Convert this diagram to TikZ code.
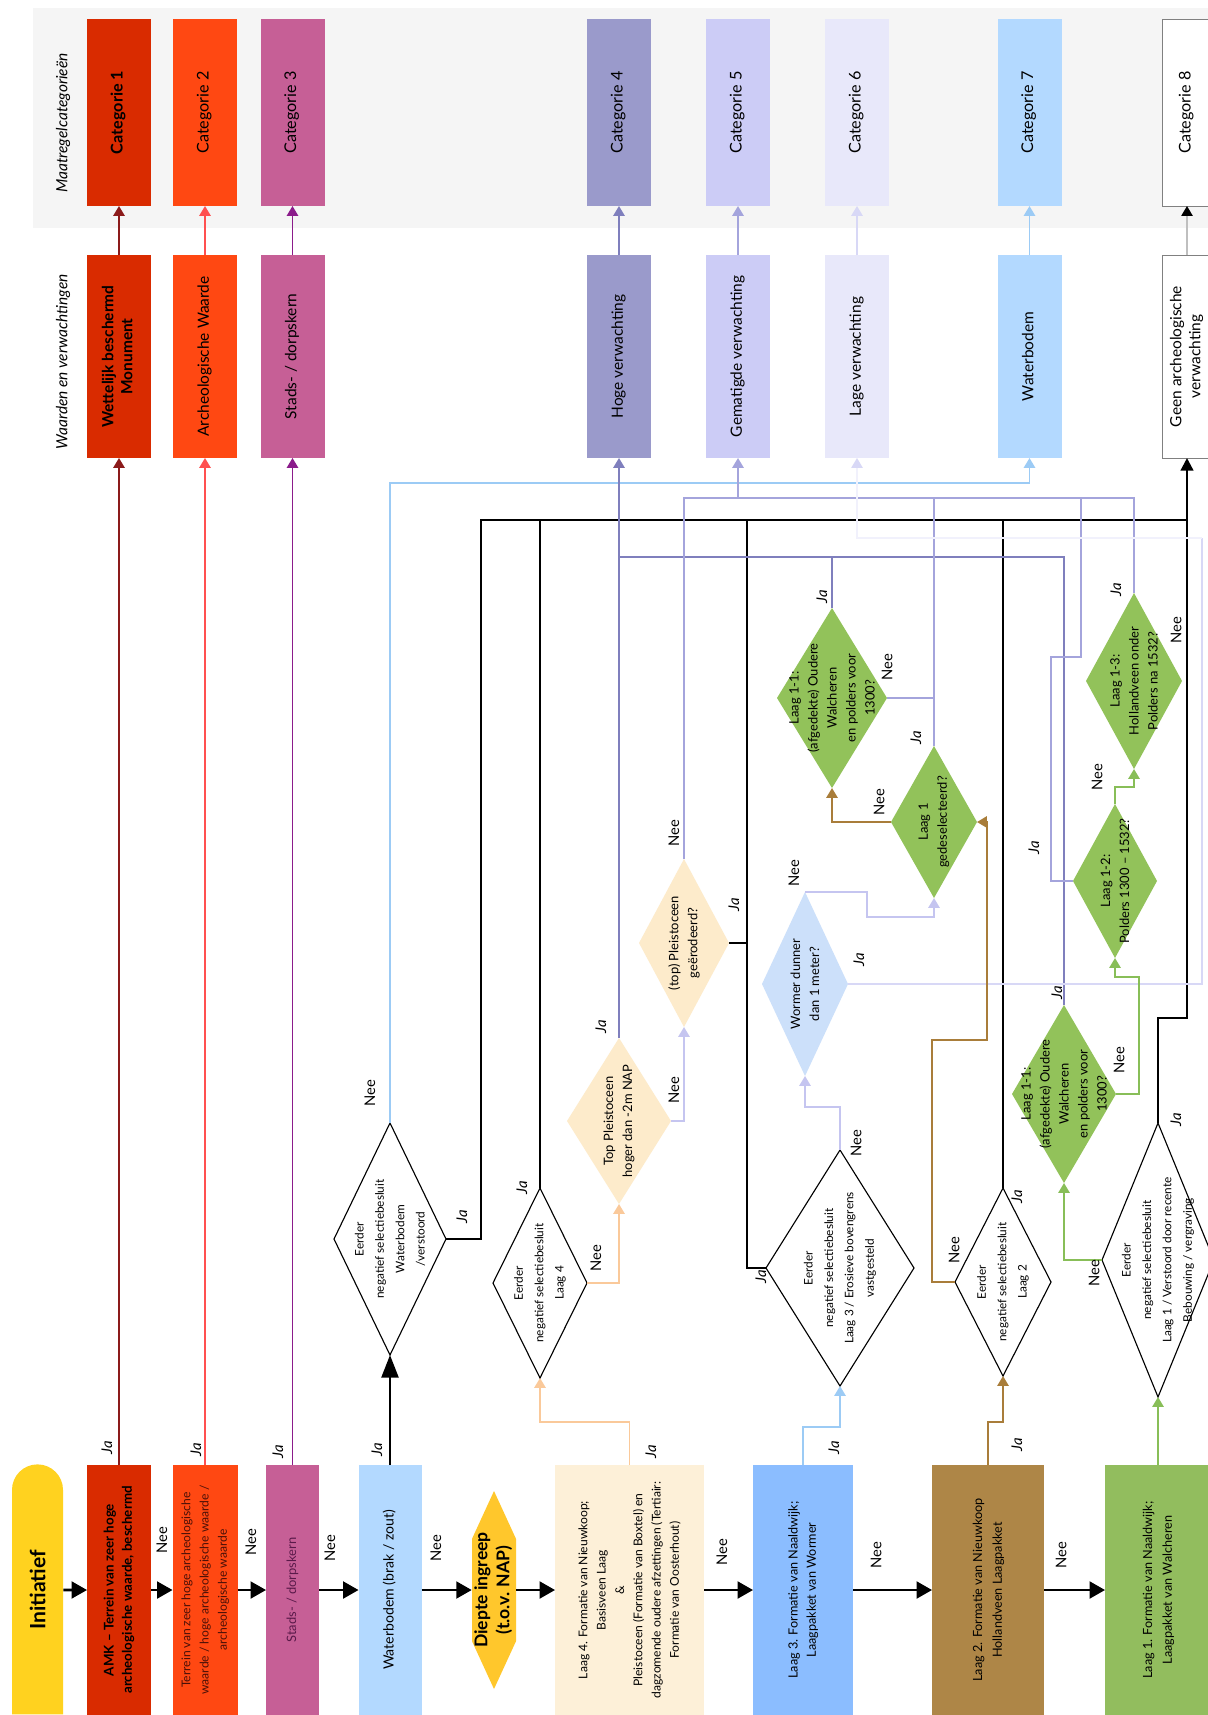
\documentclass[tikz,border=0pt]{standalone}
\usepackage{graphicx}
\usepackage{fontspec}
\setmainfont{Lato}
\usetikzlibrary{arrows.meta,shapes.geometric,shapes.misc}

\definecolor{band}{HTML}{F5F5F5}
\definecolor{catA}{HTML}{D92B00}
\definecolor{catB}{HTML}{FF4812}
\definecolor{catC}{HTML}{C65F96}
\definecolor{catD}{HTML}{9A9ACB}
\definecolor{catE}{HTML}{CCCCF6}
\definecolor{catF}{HTML}{E8E8FA}
\definecolor{catG}{HTML}{B3D9FF}
\definecolor{lijnA}{HTML}{8B1A1A}
\definecolor{lijnB}{HTML}{FF5050}
\definecolor{lijnC}{HTML}{8B1C8B}
\definecolor{lijnD}{HTML}{7F7FBD}
\definecolor{lijnE}{HTML}{A4A4DC}
\definecolor{lijnF}{HTML}{D8D8F6}
\definecolor{lijnG}{HTML}{9CCBF5}
\definecolor{geel}{HTML}{FFD21F}
\definecolor{diepgeel}{HTML}{FFC72C}
\definecolor{laagvier}{HTML}{FDF0D8}
\definecolor{laagdrie}{HTML}{8BBDFF}
\definecolor{laagtwee}{HTML}{AE8647}
\definecolor{laageen}{HTML}{92BD5E}
\definecolor{perzik}{HTML}{FDEBCB}
\definecolor{perziklijn}{HTML}{FAC99A}
\definecolor{bruin}{HTML}{A97D3A}
\definecolor{groen}{HTML}{92C25A}
\definecolor{groenlijn}{HTML}{88BE58}
\definecolor{wormer}{HTML}{CCE0FA}
\definecolor{lila}{HTML}{C5C5F0}
\definecolor{terrtxt}{HTML}{4A1008}
\definecolor{stadtxt}{HTML}{5A1A4A}

\newcommand{\px}{0.025cm}
\newcommand{\rtxt}[1]{\rotatebox{90}{\begin{tabular}{@{}c@{}}#1\end{tabular}}}

\tikzset{
  catbox/.style={rectangle, inner sep=0pt, outer sep=0pt, minimum width=64*\px, minimum height=187*\px, font=\fontsize{11.5}{13}\selectfont},
  valbox/.style={catbox, minimum height=203*\px, font=\fontsize{11}{13.5}\selectfont},
  laagbox/.style={rectangle, inner sep=0pt, outer sep=0pt, minimum height=250*\px, font=\fontsize{8.6}{13}\selectfont},
  zeshoek/.style={rectangle, inner sep=0pt, minimum width=44*\px, minimum height=198*\px,
    font=\fontsize{12.5}{15.5}\selectfont\bfseries,
    path picture={\fill[diepgeel] (path picture bounding box.north)
      -- ([yshift=-34pt]path picture bounding box.north east)
      -- ([yshift=34pt]path picture bounding box.south east)
      -- (path picture bounding box.south)
      -- ([yshift=34pt]path picture bounding box.south west)
      -- ([yshift=-34pt]path picture bounding box.north west) -- cycle;}},
  dia/.style={diamond, inner sep=0pt, outer sep=0pt},
  eerder/.style={dia, draw=black, line width=0.8pt, fill=white},
  groendia/.style={dia, fill=groen},
  perzikdia/.style={dia, fill=perzik},
  wormdia/.style={dia, fill=wormer},
  dtxt/.style={rotate=90, align=center, inner sep=0pt, font=\fontsize{8.4}{14.5}\selectfont},
  gtxt/.style={dtxt, font=\fontsize{9.2}{13.5}\selectfont},
  kopje/.style={rotate=90, inner sep=0pt, font=\fontsize{11}{12}\selectfont\itshape},
  ja/.style={rotate=90, inner sep=0pt, font=\fontsize{10.5}{11}\selectfont\itshape},
  nee/.style={rotate=90, inner sep=0pt, font=\fontsize{10.5}{11}\selectfont},
  vlak/.style={line width=1.3pt},
  kop/.style={-{Triangle[width=8pt,length=7pt]}},
  zwart/.style={line width=1.6pt, black},
  pijl/.style={line width=1.8pt, -{Triangle[width=12pt,length=11pt]}}
}

\begin{document}
\begin{tikzpicture}[x=\px, y=-\px]
\useasboundingbox (0,0) rectangle (1208,1715);
\clip (0,0) rectangle (1208,1715);
\fill[white] (0,0) rectangle (1208,1715);
\fill[band] (33,8) rectangle (1215,228);

% koppen
\node[kopje] (kopcat) at (63,123) {Maatregelcategorieën};
\node[kopje] (kopwaard) at (63,362) {Waarden en verwachtingen};

% maatregelcategorieen
\node[catbox, fill=catA, font=\fontsize{11.5}{13}\selectfont\bfseries] (cat1) at (119,112.5) {\rtxt{Categorie 1}};
\node[catbox, fill=catB] (cat2) at (205,112.5) {\rtxt{Categorie 2}};
\node[catbox, fill=catC] (cat3) at (292.5,112.5) {\rtxt{Categorie 3}};
\node[catbox, fill=catD] (cat4) at (619,112.5) {\rtxt{Categorie 4}};
\node[catbox, fill=catE] (cat5) at (738,112.5) {\rtxt{Categorie 5}};
\node[catbox, fill=catF] (cat6) at (857,112.5) {\rtxt{Categorie 6}};
\node[catbox, fill=catG] (cat7) at (1029.5,112.5) {\rtxt{Categorie 7}};
\node[catbox, fill=white, draw=gray, minimum width=50*\px] (cat8) at (1187,112.5) {\rtxt{Categorie 8}};

% waarden en verwachtingen
\node[valbox, fill=catA, font=\fontsize{11}{13.5}\selectfont\bfseries] (wrd1) at (119,356.5) {\rtxt{Wettelijk beschermd\\Monument}};
\node[valbox, fill=catB] (wrd2) at (205,356.5) {\rtxt{Archeologische Waarde}};
\node[valbox, fill=catC] (wrd3) at (292.5,356.5) {\rtxt{Stads- / dorpskern}};
\node[valbox, fill=catD] (wrd4) at (619,356.5) {\rtxt{Hoge verwachting}};
\node[valbox, fill=catE] (wrd5) at (738,356.5) {\rtxt{Gematigde verwachting}};
\node[valbox, fill=catF] (wrd6) at (857,356.5) {\rtxt{Lage verwachting}};
\node[valbox, fill=catG] (wrd7) at (1029.5,356.5) {\rtxt{Waterbodem}};
\node[valbox, fill=white, draw=gray, minimum width=50*\px] (wrd8) at (1187,356.5) {\rtxt{Geen archeologische\\verwachting}};

\draw[vlak, lijnA, kop] (wrd1) -- (cat1);
\draw[vlak, lijnB, kop] (wrd2) -- (cat2);
\draw[vlak, lijnC, kop] (wrd3) -- (cat3);
\draw[vlak, lijnD, kop] (wrd4) -- (cat4);
\draw[vlak, lijnE, kop] (wrd5) -- (cat5);
\draw[vlak, lijnF, kop] (wrd6) -- (cat6);
\draw[vlak, lijnG, kop] (wrd7) -- (cat7);
\draw[gray!50, line width=1pt, -{Triangle[width=8pt,length=7pt,color=black]}] (wrd8) -- (cat8);

% onderste rij
\node[rounded rectangle, rounded rectangle west arc=none, rotate=90, fill=geel, minimum width=250*\px, minimum height=51*\px, inner sep=0pt, font=\fontsize{15}{16}\selectfont\bfseries] (init) at (37.5,1590) {Initiatief};
\node[laagbox, fill=catA, minimum width=64*\px, font=\fontsize{9.5}{13}\selectfont\bfseries] (amk) at (119,1590) {\rtxt{AMK – Terrein van zeer hoge\\archeologische waarde, beschermd}};
\node[laagbox, fill=catB, minimum width=65*\px, text=terrtxt] (terr) at (205,1590) {\rtxt{Terrein van zeer hoge archeologische\\waarde / hoge archeologische waarde /\\archeologische waarde}};
\node[laagbox, fill=catC, minimum width=53*\px, text=stadtxt, font=\fontsize{9.2}{13}\selectfont] (stad) at (292.5,1590) {\rtxt{Stads- / dorpskern}};
\node[laagbox, fill=catG, minimum width=63*\px, font=\fontsize{10}{13}\selectfont] (wbod) at (390,1590) {\rtxt{Waterbodem (brak / zout)}};
\node[zeshoek] (diepte) at (494,1590) {\rtxt{Diepte ingreep\\(t.o.v. NAP)}};
\node[laagbox, fill=laagvier, minimum width=149*\px] (laag4) at (629.5,1590) {\rtxt{Laag 4. Formatie van Nieuwkoop;\\Basisveen Laag\\\&\\Pleistoceen (Formatie van Boxtel) en\\dagzomende oudere afzettingen (Tertiair:\\Formatie van Oosterhout)}};
\node[laagbox, fill=laagdrie, minimum width=100*\px, font=\fontsize{9}{13}\selectfont] (laag3) at (803,1590) {\rtxt{Laag 3. Formatie van Naaldwijk;\\Laagpakket van Wormer}};
\node[laagbox, fill=laagtwee, minimum width=112*\px, font=\fontsize{9}{14}\selectfont] (laag2) at (988,1590) {\rtxt{Laag 2. Formatie van Nieuwkoop\\Hollandveen Laagpakket}};
\node[laagbox, fill=laageen, minimum width=106*\px, font=\fontsize{9}{14}\selectfont] (laag1) at (1158,1590) {\rtxt{Laag 1. Formatie van Naaldwijk;\\Laagpakket van Walcheren}};

\draw[pijl] (init) -- (amk);
\draw[pijl] (amk) -- (terr);
\draw[pijl] (terr) -- (stad);
\draw[pijl] (stad) -- (wbod);
\draw[pijl] (wbod) -- (diepte);
\draw[pijl] (diepte) -- (laag4);
\draw[pijl] (laag4) -- (laag3);
\draw[pijl] (laag3) -- (laag2);
\draw[pijl] (laag2) -- (laag1);

\node[nee] (n1) at (162,1540) {Nee};
\node[nee] (n2) at (251,1542) {Nee};
\node[nee] (n3) at (330,1548) {Nee};
\node[nee] (n4) at (436,1548) {Nee};
\node[nee] (n5) at (722,1552) {Nee};
\node[nee] (n6) at (876,1555) {Nee};
\node[nee] (n7) at (1061,1555) {Nee};

\node[ja] (j1) at (107,1448) {Ja};
\node[ja] (j2) at (196,1450) {Ja};
\node[ja] (j3) at (278,1452) {Ja};
\node[ja] (j4) at (377,1450) {Ja};
\node[ja] (j5) at (651,1452) {Ja};
\node[ja] (j6) at (834,1448) {Ja};
\node[ja] (j7) at (1017,1445) {Ja};

\draw[vlak, lijnA, kop] (amk) -- (wrd1);
\draw[vlak, lijnB, kop] (terr) -- (wrd2);
\draw[vlak, lijnC, kop] (stad) -- (wrd3);

% beslisruiten
\node[eerder, minimum width=112*\px, minimum height=232*\px] (dWb) at (390,1239) {};
\node[dtxt] (tWb) at (dWb) {Eerder\\negatief selectiebesluit\\Waterbodem\\/verstoord};
\node[eerder, minimum width=94*\px, minimum height=190*\px] (dL4) at (540,1283) {};
\node[dtxt] (tL4) at (dL4) {Eerder\\negatief selectiebesluit\\Laag 4};
\node[eerder, minimum width=148*\px, minimum height=236*\px] (dL3) at (840,1268) {};
\node[dtxt] (tL3) at (dL3) {Eerder\\negatief selectiebesluit\\Laag 3 / Erosieve bovengrens\\vastgesteld};
\node[eerder, minimum width=96*\px, minimum height=188*\px] (dL2) at (1003,1282) {};
\node[dtxt] (tL2) at (dL2) {Eerder\\negatief selectiebesluit\\Laag 2};
\node[eerder, minimum width=112*\px, minimum height=274*\px] (dL1) at (1158,1260) {};
\node[dtxt] (tL1) at (dL1) {Eerder\\negatief selectiebesluit\\Laag 1 / Verstoord door recente\\Bebouwing / vergraving};

\node[perzikdia, minimum width=104*\px, minimum height=166*\px] (dTop) at (619,1121) {};
\node[gtxt] (tTop) at (dTop) {Top Pleistoceen\\hoger dan -2m NAP};
\node[perzikdia, minimum width=90*\px, minimum height=168*\px] (dTPe) at (684,943) {};
\node[gtxt] (tTPe) at (dTPe) {(top) Pleistoceen\\geërodeerd?};
\node[wormdia, minimum width=86*\px, minimum height=184*\px] (dWor) at (805,984) {};
\node[gtxt] (tWor) at (dWor) {Wormer dunner\\dan 1 meter?};

\node[groendia, minimum width=110*\px, minimum height=180*\px] (dU11) at (832,698) {};
\node[gtxt] (tU11) at (dU11) {Laag 1-1:\\(afgedekte) Oudere\\Walcheren\\en polders voor\\1300?};
\node[groendia, minimum width=86*\px, minimum height=152*\px] (dLG) at (934,822) {};
\node[gtxt] (tLG) at (dLG) {Laag 1\\gedeselecteerd?};
\node[groendia, minimum width=96*\px, minimum height=176*\px] (dL13) at (1134,681) {};
\node[gtxt] (tL13) at (dL13) {Laag 1-3:\\Hollandveen onder\\Polders na 1532?};
\node[groendia, minimum width=84*\px, minimum height=154*\px] (dL12) at (1115,881) {};
\node[gtxt] (tL12) at (dL12) {Laag 1-2:\\Polders 1300 – 1532?};
\node[groendia, minimum width=104*\px, minimum height=178*\px] (dLL11) at (1064,1094) {};
\node[gtxt] (tLL11) at (dLL11) {Laag 1-1:\\(afgedekte) Oudere\\Walcheren\\en polders voor\\1300?};

% verzamellijnen
\coordinate (busW) at (0,483);
\coordinate (busG) at (0,498);
\coordinate (busN) at (481,520);
\coordinate (busH) at (0,557);

% naar waterbodem
\draw[vlak, lijnG, kop] (dWb.north) |- (busW -| wrd7.south) -- (wrd7.south);
% naar geen verwachting
\draw[zwart] (dWb.east) -| (busN) -- (busN -| wrd8);
\draw[zwart] (dL4.north) -- (dL4.north |- busN);
\draw[zwart] (dL3.west) -- ++(-19,0) coordinate (jL3) -- (jL3 |- busN);
\draw[zwart] (dTPe.east) -- (dTPe.east -| jL3);
\draw[zwart] (dL2.north) -- (dL2.north |- busN);
\draw[zwart, -{Triangle[width=9pt,length=9pt]}] (dL1.north) -- ++(0,-105) -| (wrd8.south);
\draw[zwart, line width=1.8pt, -{Triangle[width=12pt,length=16pt]}] (wbod) -- (dWb);
% naar hoge verwachting
\draw[vlak, lijnD, kop] (dTop.north) -- (wrd4.south);
\draw[vlak, lijnD] (dLL11.north) |- (busH -| wrd4.south);
\draw[vlak, lijnD] (dU11.north) -- (dU11.north |- busH);
% naar gematigde verwachting
\draw[vlak, lijnE] (dTPe.north) |- (busG -| dL13.north) -- (dL13.north);
\draw[vlak, lijnE, kop] (busG -| wrd5.south) -- (wrd5.south);
\draw[vlak, lijnE] (dLG.north) -- (dLG.north |- busG);
\draw[vlak, lijnE] (dU11.east) -- (dU11.east -| dLG.north);
\draw[vlak, lijnE] (dL12.west) -- ++(-22,0) -- ++(0,-224) -- ++(30,0) coordinate (jL12) -- (jL12 |- busG);
% naar lage verwachting
\draw[vlak, lijnF] (dWor.east) -- ++(354,0) -- ++(0,-446) coordinate (lageHoek);
\draw[line width=1pt, lijnF!35, -{Triangle[width=8pt,length=7pt,color=lijnF]}] (lageHoek) -| (wrd6.south);

% laag 4
\draw[vlak, perziklijn, kop] (laag4.north) -- ++(0,-43) -| (dL4.south);
\draw[vlak, perziklijn, kop] (dL4.east) -| (dTop.south);
\draw[vlak, lila, kop] (dTop.east) -| (dTPe.south);
% laag 3
\draw[vlak, lijnG, kop] (laag3.north) -- ++(0,-38) -| (dL3.south);
\draw[vlak, lila, kop] (dL3.north) -- ++(0,-43) -| (dWor.south);
\draw[vlak, lila, kop] (dWor.north) -- ++(62,0) -- ++(0,25) -| (dLG.south);
% laag 2
\draw[vlak, bruin, kop] (laag2.north) -- ++(0,-43) -| (dL2.south);
\draw[vlak, bruin, kop] (dL2.west) -- ++(-23,0) -- ++(0,-242) -- ++(55,0) |- (dLG.east);
\draw[vlak, bruin, kop] (dLG.west) -| (dU11.south);
% laag 1
\draw[vlak, groenlijn, kop] (laag1) -- (dL1);
\draw[vlak, groenlijn, kop] (dL1.west) -| (dLL11.south);
\draw[vlak, groenlijn, kop] (dLL11.east) -- ++(23,0) -- ++(0,-117) -| (dL12.south);
\draw[vlak, groenlijn, kop] (dL12.north) -- ++(0,-17) -| (dL13.south);

% ja / nee bij de ruiten
\node[nee] (nWb) at (370,1093) {Nee};
\node[ja] (jWb) at (462,1217) {Ja};
\node[ja] (jL4) at (522,1188) {Ja};
\node[nee] (nL4) at (596,1258) {Nee};
\node[ja] (jTop) at (601,1027) {Ja};
\node[nee] (nTop) at (674,1090) {Nee};
\node[nee] (nTPe) at (674,833) {Nee};
\node[ja] (jTPe) at (734,905) {Ja};
\node[ja] (jL3t) at (761,1277) {Ja};
\node[nee] (nL3) at (856,1143) {Nee};
\node[nee] (nWor) at (794,873) {Nee};
\node[ja] (jWor) at (859,960) {Ja};
\node[ja] (jLG) at (916,738) {Ja};
\node[nee] (nLG) at (879,802) {Nee};
\node[ja] (jU11) at (822,597) {Ja};
\node[nee] (nU11) at (887,667) {Nee};
\node[ja] (jL13) at (1116,590) {Ja};
\node[nee] (nL13) at (1176,630) {Nee};
\node[nee] (nL12) at (1097,777) {Nee};
\node[ja] (jL12t) at (1034,848) {Ja};
\node[ja] (jLL11) at (1057,993) {Ja};
\node[nee] (nLL11) at (1119,1060) {Nee};
\node[ja] (jL2) at (1017,1197) {Ja};
\node[nee] (nL2) at (954,1250) {Nee};
\node[ja] (jL1) at (1176,1120) {Ja};
\node[nee] (nL1) at (1094,1273) {Nee};
\end{tikzpicture}
\end{document}
